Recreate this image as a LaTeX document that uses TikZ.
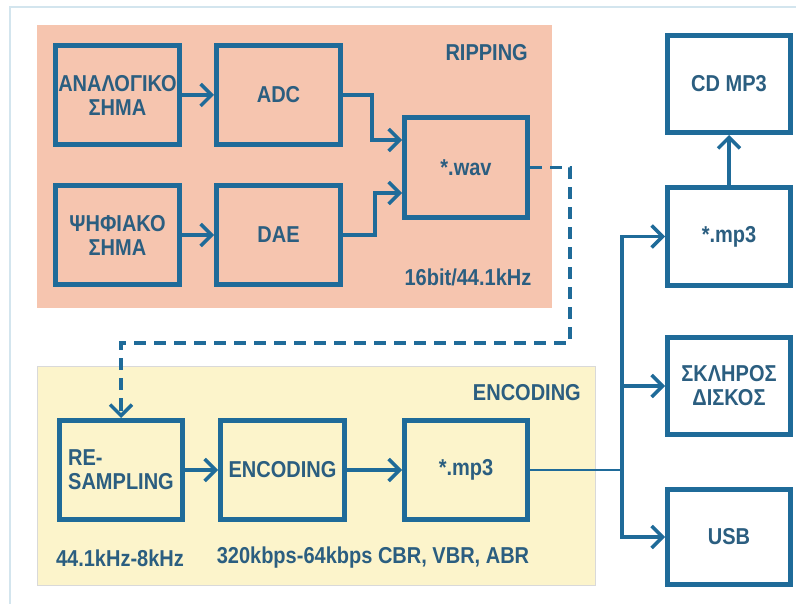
\documentclass[tikz,border=0pt]{standalone}
\usepackage{fontspec}
\setmainfont{Liberation Sans}[FakeStretch=0.87]
\usetikzlibrary{arrows.meta}
\definecolor{boxblue}{HTML}{1F6B99}
\definecolor{txtblue}{HTML}{2B5E80}
\definecolor{salmon}{HTML}{F6C5AF}
\definecolor{paleyel}{HTML}{FCF4CB}
\definecolor{framecol}{HTML}{D3E5EE}
\tikzset{
  blk/.style={draw=boxblue, line width=5pt, minimum width=123pt, minimum height=99pt,
    inner sep=0pt, align=center, text=txtblue,
    font=\fontsize{23}{24}\selectfont\bfseries},
  lbl/.style={text=txtblue, inner sep=0pt, font=\fontsize{23}{24}\selectfont\bfseries},
  arr/.style={draw=boxblue, line width=3.5pt, -{Straight Barb[length=11pt,width=22pt,line width=3.5pt]}},
  plain/.style={draw=boxblue, line width=2.5pt},
  dasharr/.style={arr, dash pattern=on 12pt off 8pt}
}
\begin{document}
\begin{tikzpicture}[x=1pt,y=-1pt]
\useasboundingbox (0,0) rectangle (796,604);
\fill[white] (0,0) rectangle (796,604);
\draw[framecol, line width=1.5pt] (10,604) -- (10,7) -- (796,7);
% group panels
\fill[salmon] (37,25) rectangle (552,308);
\fill[paleyel] (37,366) rectangle (595,585);
\draw[black!15, line width=0.6pt] (37,366) rectangle (595,585);
% nodes
\node[blk, minimum width=124pt] (ana) at (117.5,95) {ΑΝΑΛΟΓΙΚΟ\\ΣΗΜΑ};
\node[blk, minimum width=124pt] (adc) at (278.5,95) {ADC};
\node[blk, minimum width=124pt] (psi) at (117.5,235) {ΨΗΦΙΑΚΟ\\ΣΗΜΑ};
\node[blk, minimum width=124pt] (dae) at (278.5,235) {DAE};
\node[blk, minimum height=100pt] (wav) at (466,167.5) {*.wav};
\node[blk, minimum height=97pt] (cd) at (729,84) {CD MP3};
\node[blk, minimum height=98pt] (mp3r) at (729,236.5) {*.mp3};
\node[blk, minimum height=97pt] (hdd) at (729,386) {ΣΚΛΗΡΟΣ\\ΔΙΣΚΟΣ};
\node[blk, minimum height=95pt] (usb) at (729,537) {USB};
\node[blk, align=left] (res) at (121,470) {RE-\\SAMPLING};
\node[blk, minimum width=124pt] (enc) at (282.5,470) {ENCODING};
\node[blk] (mp3e) at (466,470) {*.mp3};
% labels
\node[lbl, anchor=east] (lrip) at (528,53) {RIPPING};
\node[lbl] (lbit) at (468,277) {16bit/44.1kHz};
\node[lbl, anchor=east] (lenc) at (581,393) {ENCODING};
\node[lbl] (lres) at (120,558) {44.1kHz-8kHz};
\node[lbl] (lrate) at (373,558) {320kbps-64kbps CBR, VBR, ABR};
% connectors
\draw[arr] (ana.east) -- (adc.west);
\draw[arr] (psi.east) -- (dae.west);
\draw[arr] (adc.east) -- ++(29,0) |- ([yshift=27.5pt]wav.west);
\draw[arr] (dae.east) -- ++(32,0) |- ([yshift=-25.5pt]wav.west);
\coordinate (dd) at (570,343);
\draw[dasharr] (wav.east) -| (dd) -| (res.north);
\draw[arr] (res.east) -- (enc.west);
\draw[arr] (enc.east) -- (mp3e.west);
\coordinate (br) at (622,470);
\draw[plain] (mp3e.east) -- (br);
\draw[arr] (br) |- (mp3r.west);
\draw[arr] (br) |- (hdd.west);
\draw[arr] (br) |- (usb.west);
\draw[arr] (mp3r.north) -- (cd.south);
\end{tikzpicture}
\end{document}
